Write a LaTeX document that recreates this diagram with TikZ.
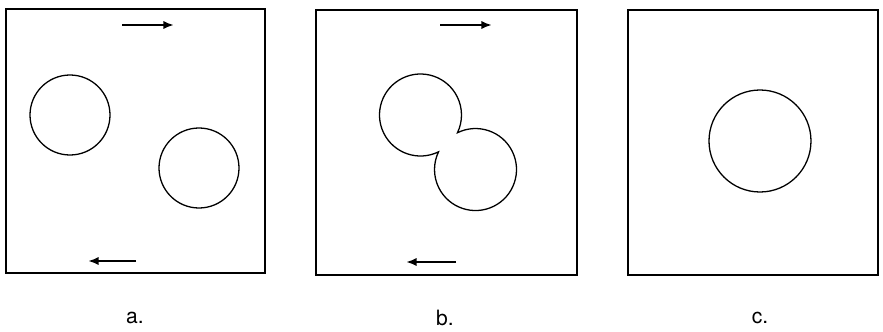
\documentclass[tikz,border=0pt]{standalone}
\usepackage{fontspec}
\setsansfont{TeX Gyre Heros}
\usetikzlibrary{arrows.meta, calc}

\begin{document}
\begin{tikzpicture}[
  x=0.03cm, y=-0.03cm,
  every node/.style = {font=\sffamily\fontsize{18}{20}\selectfont},
  panel/.style = {draw=black, line width=1.3pt},
  disc/.style  = {draw=black, line width=1.1pt},
  flow/.style  = {-{Latex[length=9pt, width=7pt]}, line width=2.2pt}
]
\useasboundingbox (0,0) rectangle (883,331);

%% ── PANEL a (two separate spheres) ──────────────────────────────
\draw[panel] (6,9) rectangle (265,273);
\coordinate (ca1) at (70,115);
\coordinate (ca2) at (199,168);
\draw[disc] (ca1) circle[radius=40];
\draw[disc] (ca2) circle[radius=40];
\coordinate (ta0) at (122,25);  \coordinate (ta1) at (174,25);
\coordinate (ba0) at (136,261); \coordinate (ba1) at (88,261);
\draw[flow] (ta0) -- (ta1);
\draw[flow] (ba0) -- (ba1);
\node (la) at (135,318) {a.};

%% ── PANEL b (spheres touching) ─────────────────────────────────
\draw[panel] (316,10) rectangle (577,275);
\coordinate (cb1) at (420.5,115);
\coordinate (cb2) at (475.5,169.5);
\draw[disc] ($(cb1)+(63.9:41)$) arc[start angle=63.9, end angle=385.6, radius=41]
            arc[start angle=243.9, end angle=565.6, radius=41] -- cycle;
\coordinate (tb0) at (440,25);  \coordinate (tb1) at (492,25);
\coordinate (bb0) at (456,262); \coordinate (bb1) at (406,262);
\draw[flow] (tb0) -- (tb1);
\draw[flow] (bb0) -- (bb1);
\node (lb) at (445,318) {b.};

%% ── PANEL c (single merged sphere) ─────────────────────────────
\draw[panel] (628,10) rectangle (878,275);
\coordinate (cc) at (760,141);
\draw[disc] (cc) circle[radius=51];
\node (lc) at (760,318) {c.};

\end{tikzpicture}
\end{document}
